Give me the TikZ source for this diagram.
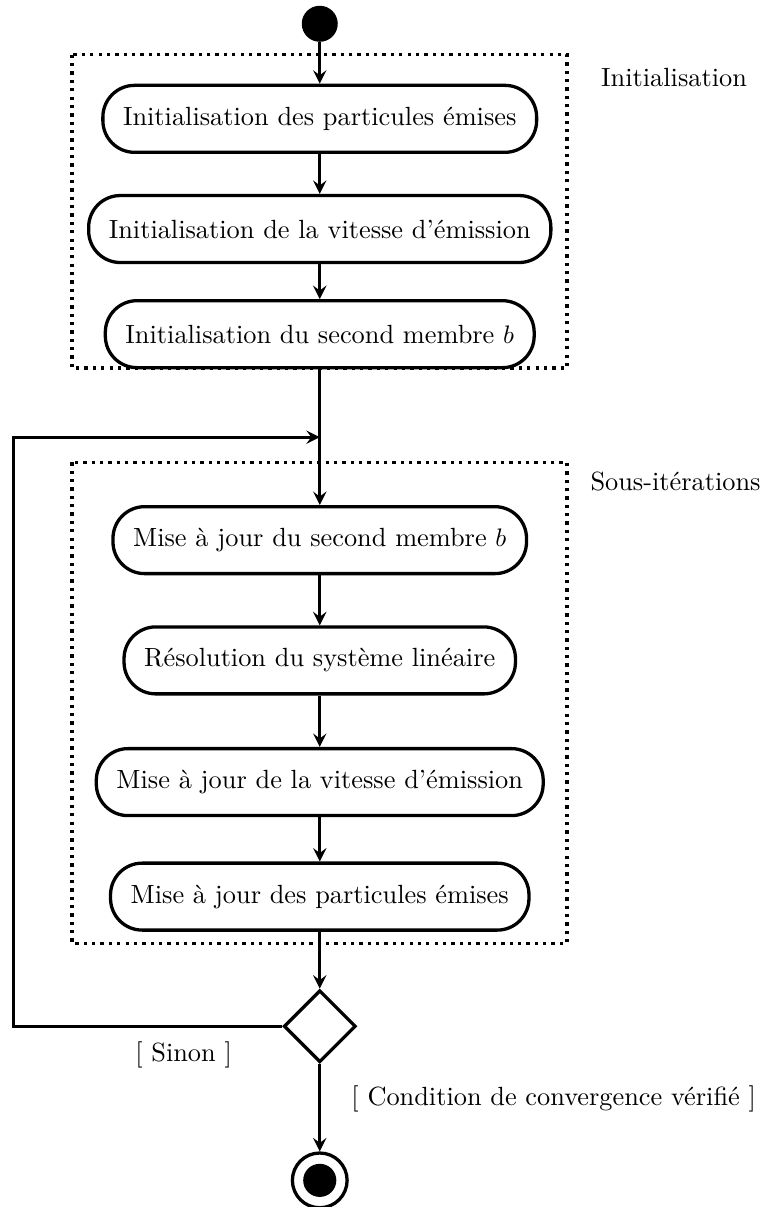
\documentclass[tikz,border=0pt]{standalone}
\usepackage{tikz}
\usetikzlibrary{arrows,positioning,shapes.geometric}

\begin{document}
\begin{tikzpicture}[
every node/.style={font=\fontsize{10.4}{12.5}\selectfont},
activity/.style={draw,line width=1.3pt,rounded corners=0.44cm,minimum height=0.93cm,inner xsep=0.28cm},
plain/.style={draw=none,fill=none},
group/.style={draw,line width=1.3pt,dotted},
flow/.style={->,line width=1.3pt},
start/.style={circle,fill,inner sep=0pt,minimum size=0.5cm},
decision/.style={diamond,draw,line width=1.3pt,inner sep=0pt,minimum size=1.0cm},
>=stealth]

\useasboundingbox (0,0) rectangle (10.76,-16.76);

% groups
\draw[group] (1.0,-0.76) rectangle (7.875,-5.11);
\draw[group] (1.0,-6.42) rectangle (7.875,-13.1);
\node[plain] (lblinit) at (9.36,-1.08) {Initialisation};
\node[plain] (lblsous) at (9.38,-6.69) {Sous-itérations};

\node[start] (debut) at (4.44,-0.33) {};
\node[activity] (a1) at (4.44,-1.65) {Initialisation des particules émises};
\node[activity] (a2) at (4.44,-3.18) {Initialisation de la vitesse d'émission};
\node[activity] (a3) at (4.44,-4.64) {Initialisation du second membre $b$};
\node[activity] (a4) at (4.44,-7.50) {Mise à jour du second membre $b$};
\node[activity] (a5) at (4.44,-9.17) {Résolution du système linéaire};
\node[activity] (a6) at (4.44,-10.86) {Mise à jour de la vitesse d'émission};
\node[activity] (a7) at (4.44,-12.45) {Mise à jour des particules émises};
\node[decision] (test) at (4.44,-14.25) {};
\node[circle,draw,line width=1.3pt,inner sep=0pt,minimum size=0.76cm] (fin) at (4.44,-16.39) {};
\node[start,minimum size=0.46cm] (finint) at (fin) {};

\coordinate (retour) at (4.44,-6.07);
\coordinate (coin1) at (0.19,-14.25);
\coordinate (coin2) at (0.19,-6.07);

\draw[flow] (debut) -- (a1);
\foreach \ai [count=\mi from 2] in {1,2}
\draw[flow] (a\ai) -- (a\mi);
\draw[flow,-] (a3) -- (retour);
\draw[flow] (retour) -- (a4);
\foreach \ai [count=\mi from 5] in {4,5,6}
\draw[flow] (a\ai) -- (a\mi);
\draw[flow] (a7) -- (test);

\draw[flow] (test.west) -- node[below,pos=0.367,yshift=-0.08cm] (lblsinon) {[ Sinon ]} (coin1) -- (coin2) -- (retour);
\draw[flow] (test) -- node[right,xshift=0.3cm,yshift=0.12cm] (lblconv) {[ Condition de convergence vérifié ]} (fin);
\end{tikzpicture}
\end{document}
